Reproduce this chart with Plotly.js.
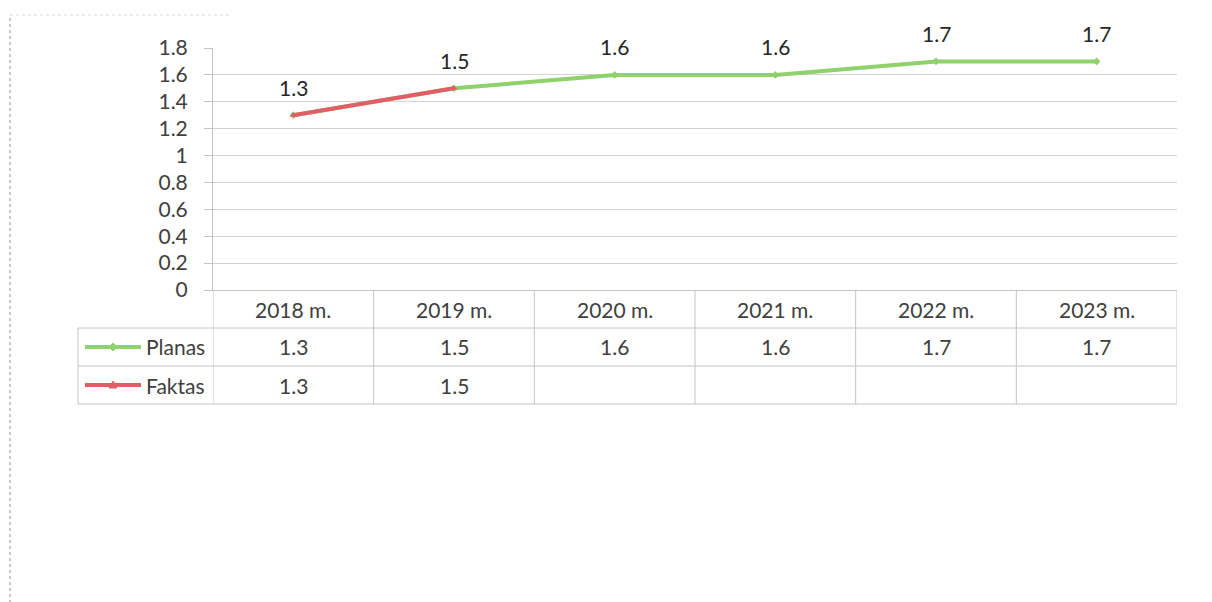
<!DOCTYPE html>
<html>
<head>
<meta charset="utf-8">
<script src="https://cdn.plot.ly/plotly-3.0.1.min.js"></script>
<style>html,body{margin:0;padding:0;background:#fff;}#chart{width:1212px;height:602px;}</style>
</head>
<body>
<div id="chart"></div>
<script>
const categories = ["2018 m.", "2019 m.", "2020 m.", "2021 m.", "2022 m.", "2023 m."];
const planas = [1.3, 1.5, 1.6, 1.6, 1.7, 1.7];
const faktas = [1.3, 1.5, null, null, null, null];
const seriesNames = ["Planas", "Faktas"];
const yTicks = [0, 0.2, 0.4, 0.6, 0.8, 1, 1.2, 1.4, 1.6, 1.8];
const yTickText = ["0", "0.2", "0.4", "0.6", "0.8", "1", "1.2", "1.4", "1.6", "1.8"];

const W = 1212, H = 602;
const px = v => v / W;          // pixel x -> paper
const py = v => 1 - v / H;      // pixel y -> paper

const green = "#8fd16b";
const red = "#e35d67";
const gridC = "#d4d4d4";
const tableC = "#c4c4c4";
const textC = "#404040";
const FONT = "Lato, 'Noto Sans', sans-serif";

const fmt = v => (v === null ? "" : v.toFixed(1));

const traces = [
  {x: categories, y: planas, name: seriesNames[0], type: "scatter", mode: "lines+markers",
   line: {color: green, width: 4}, marker: {symbol: "diamond", size: 6, color: green}, cliponaxis: false},
  {x: categories, y: faktas, name: seriesNames[1], type: "scatter", mode: "lines+markers",
   line: {color: red, width: 4}, marker: {symbol: "triangle-up", size: 6, color: red}, cliponaxis: false}
];

const rowY = [309, 347, 385]; // header, Planas, Faktas (pixel centres)
const rowLines = [328, 366, 404];
const annotations = [];
// data labels
planas.forEach((v, i) => {
  annotations.push({x: categories[i], y: v, xref: "x", yref: "y", text: fmt(v), showarrow: false,
    yshift: 28, font: {family: FONT, size: 21, color: "#262626"}});
});
// table header
categories.forEach((c, i) => {
  annotations.push({x: c, y: py(rowY[0]), xref: "x", yref: "paper", text: c, showarrow: false,
    font: {family: FONT, size: 21, color: textC}});
});
[planas, faktas].forEach((arr, r) => {
  arr.forEach((v, i) => {
    if (v === null) return;
    annotations.push({x: categories[i], y: py(rowY[r + 1]), xref: "x", yref: "paper", text: fmt(v), showarrow: false,
      font: {family: FONT, size: 21, color: textC}});
  });
  annotations.push({x: px(207), y: py(rowY[r + 1]), xref: "paper", yref: "paper", xanchor: "right",
    text: seriesNames[r], showarrow: false, font: {family: FONT, size: 21, color: textC}});
});

const shapes = [];
// table horizontal lines
rowLines.forEach((yy, k) => {
  shapes.push({type: "line", xref: "paper", yref: "paper", x0: px(78), x1: px(1177), y0: py(yy), y1: py(yy),
    line: {color: tableC, width: 1}});
});
// table vertical lines at category boundaries
for (let i = 0; i <= categories.length; i++) {
  shapes.push({type: "line", xref: "x", yref: "paper", x0: i - 0.5, x1: i - 0.5, y0: py(290), y1: py(404),
    line: {color: tableC, width: 1}});
}
// left border of legend column
shapes.push({type: "line", xref: "paper", yref: "paper", x0: px(78), x1: px(78), y0: py(328), y1: py(404),
  line: {color: tableC, width: 1}});
// legend keys
[[green, rowY[1]], [red, rowY[2]]].forEach(([c, yy], k) => {
  shapes.push({type: "line", xref: "paper", yref: "paper", x0: px(85), x1: px(141), y0: py(yy), y1: py(yy),
    line: {color: c, width: 4}});
  const cx = 113;
  const path = k === 0
    ? `M ${px(cx - 4)} ${py(yy)} L ${px(cx)} ${py(yy - 4)} L ${px(cx + 4)} ${py(yy)} L ${px(cx)} ${py(yy + 4)} Z`
    : `M ${px(cx - 4)} ${py(yy + 3)} L ${px(cx)} ${py(yy - 4)} L ${px(cx + 4)} ${py(yy + 3)} Z`;
  shapes.push({type: "path", xref: "paper", yref: "paper", path: path, fillcolor: c, line: {color: c, width: 1}});
});
// scan page edge (dotted)
shapes.push({type: "line", xref: "paper", yref: "paper", x0: px(10), x1: px(10), y0: py(18), y1: 0,
  line: {color: "#c8c8c8", width: 2, dash: "dot"}});
shapes.push({type: "line", xref: "paper", yref: "paper", x0: px(10), x1: px(230), y0: py(15), y1: py(15),
  line: {color: "#ececec", width: 2, dash: "dot"}});

const layout = {
  width: W, height: H,
  margin: {l: 0, r: 0, t: 0, b: 0},
  paper_bgcolor: "#fff", plot_bgcolor: "#fff",
  showlegend: false,
  xaxis: {domain: [px(213), px(1177)], type: "category", range: [-0.5, 5.5], showticklabels: false,
    showgrid: false, zeroline: false, showline: true, linecolor: tableC, linewidth: 1, ticks: "", fixedrange: true},
  yaxis: {domain: [py(290), py(48)], range: [0, 1.8], tickvals: yTicks, ticktext: yTickText,
    showgrid: true, gridcolor: gridC, gridwidth: 1, zeroline: false, showline: true, linecolor: tableC, linewidth: 1,
    ticks: "outside", ticklen: 8, tickcolor: tableC, ticklabelstandoff: 12,
    tickfont: {family: FONT, size: 21, color: textC}, fixedrange: true},
  annotations: annotations,
  shapes: shapes
};

Plotly.newPlot("chart", traces, layout, {displayModeBar: false, staticPlot: true});
</script>
</body>
</html>
